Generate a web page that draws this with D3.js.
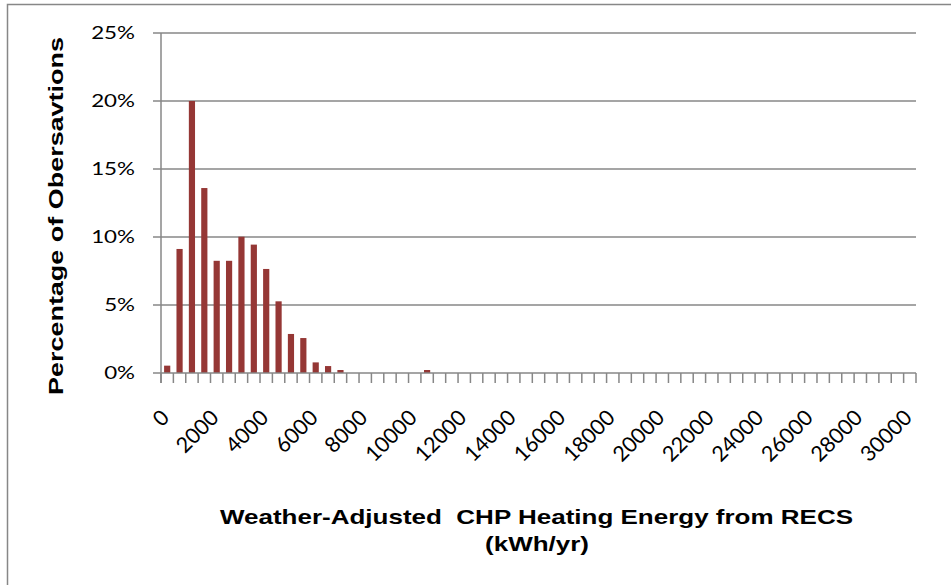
<!DOCTYPE html>
<html>
<head>
<meta charset="utf-8">
<script src="https://cdn.jsdelivr.net/npm/d3@7"></script>
<style>
  html, body { margin: 0; padding: 0; background: #fff; }
  svg { display: block; }
</style>
</head>
<body>
<svg id="chart" width="951" height="585"></svg>
<script>
// Histogram bins (kWh/yr, 500 wide) and share of observations per bin (%)
const bins = d3.range(0, 30001, 500);
const shares = [
  0.54, 9.12, 20.0, 13.6, 8.25, 8.25, 10.02, 9.44, 7.65, 5.27,
  2.87, 2.57, 0.78, 0.51, 0.22, 0, 0, 0, 0, 0,
  0, 0.22, 0, 0, 0, 0, 0, 0, 0, 0,
  0, 0, 0, 0, 0, 0, 0, 0, 0, 0,
  0, 0, 0, 0, 0, 0, 0, 0, 0, 0,
  0, 0, 0, 0, 0, 0, 0, 0, 0, 0,
  0
];
const yTicks = [0, 5, 10, 15, 20, 25];
const xLabelBins = d3.range(0, 30001, 2000);

const yTitle = "Percentage  of Obersavtions";
const xTitle1 = "Weather-Adjusted  CHP Heating Energy from RECS";
const xTitle2 = "(kWh/yr)";

const svg = d3.select("#chart");
const plot = { left: 161, right: 916, top: 33, bottom: 373 };
const grey = "#878787";
const barColor = "#953735";
const stretch = 1.27; // horizontal widening of the value labels

// Outer chart frame
svg.append("rect")
  .attr("x", 7.5).attr("y", 4.5)
  .attr("width", 960).attr("height", 600)
  .attr("fill", "#fff").attr("stroke", grey).attr("stroke-width", 1.5);

const x = d3.scaleBand()
  .domain(bins)
  .range([plot.left, plot.right])
  .paddingInner(0.5)
  .paddingOuter(0.25);

const y = d3.scaleLinear()
  .domain([0, 25])
  .range([plot.bottom, plot.top]);

// Horizontal gridlines
svg.append("g")
  .selectAll("line")
  .data(yTicks.filter(d => d > 0))
  .join("line")
  .attr("x1", plot.left).attr("x2", plot.right)
  .attr("y1", d => y(d)).attr("y2", d => y(d))
  .attr("stroke", grey).attr("stroke-width", 1.5);

// Bars
svg.append("g")
  .selectAll("rect")
  .data(bins.map((b, i) => ({ bin: b, v: shares[i] })).filter(d => d.v > 0))
  .join("rect")
  .attr("x", d => x(d.bin))
  .attr("width", x.bandwidth())
  .attr("y", d => y(d.v))
  .attr("height", d => y(0) - y(d.v))
  .attr("fill", barColor);

// Y axis line, ticks and labels
svg.append("line")
  .attr("x1", plot.left).attr("x2", plot.left)
  .attr("y1", plot.top).attr("y2", plot.bottom + 10)
  .attr("stroke", grey).attr("stroke-width", 1.5);

svg.append("g")
  .selectAll("line")
  .data(yTicks)
  .join("line")
  .attr("x1", plot.left - 8).attr("x2", plot.left)
  .attr("y1", d => y(d)).attr("y2", d => y(d))
  .attr("stroke", grey).attr("stroke-width", 1.5);

svg.append("g")
  .selectAll("text")
  .data(yTicks)
  .join("text")
  .attr("transform", d => `translate(135,${y(d) + 6.3}) scale(${stretch},1)`)
  .attr("text-anchor", "end")
  .attr("font-family", "Lato, 'Open Sans', sans-serif")
  .attr("font-size", 17.6)
  .attr("fill", "#000")
  .text(d => d + "%");

// X axis line and bin boundary ticks
svg.append("line")
  .attr("x1", plot.left).attr("x2", plot.right)
  .attr("y1", plot.bottom).attr("y2", plot.bottom)
  .attr("stroke", grey).attr("stroke-width", 1.5);

const step = x.step();
const boundaries = d3.range(bins.length + 1).map(i => x(bins[0]) - x.paddingOuter() * step + i * step);
svg.append("g")
  .selectAll("line")
  .data(boundaries)
  .join("line")
  .attr("x1", d => d).attr("x2", d => d)
  .attr("y1", plot.bottom).attr("y2", plot.bottom + 10)
  .attr("stroke", grey).attr("stroke-width", 1.5);

// Rotated bin labels
svg.append("g")
  .selectAll("text")
  .data(xLabelBins)
  .join("text")
  .attr("transform", d => `translate(${x(d) + x.bandwidth() / 2 + 3.5},${plot.bottom + 46}) rotate(-45)`)
  .attr("text-anchor", "end")
  .attr("font-family", "Lato, 'Open Sans', sans-serif")
  .attr("font-size", 21.5)
  .attr("fill", "#000")
  .text(d => d);

// Axis titles
svg.append("text")
  .attr("transform", "translate(63,216) rotate(-90)")
  .attr("text-anchor", "middle")
  .attr("font-family", "'Liberation Sans', Arial, sans-serif")
  .attr("font-weight", "bold")
  .attr("font-size", 19.5)
  .attr("textLength", 358)
  .attr("lengthAdjust", "spacingAndGlyphs")
  .text(yTitle);

svg.append("text")
  .attr("transform", `translate(536.5,524) scale(1.3,1)`)
  .attr("text-anchor", "middle")
  .attr("font-family", "'Liberation Sans', Arial, sans-serif")
  .attr("font-weight", "bold")
  .attr("font-size", 20)
  .attr("xml:space", "preserve")
  .style("white-space", "pre")
  .text(xTitle1);

svg.append("text")
  .attr("transform", `translate(537,551) scale(1.3,1)`)
  .attr("text-anchor", "middle")
  .attr("font-family", "'Liberation Sans', Arial, sans-serif")
  .attr("font-weight", "bold")
  .attr("font-size", 20)
  .text(xTitle2);
</script>
</body>
</html>
